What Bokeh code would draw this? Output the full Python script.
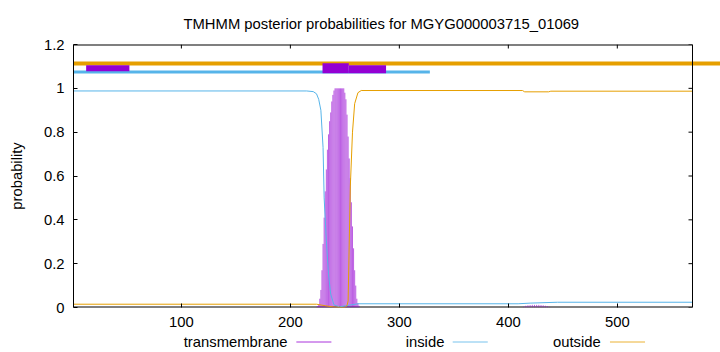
import numpy as np
from bokeh.plotting import figure
from bokeh.layouts import column
from bokeh.models import Range1d, FixedTicker, Span
from bokeh.core.properties import value
from bokeh.embed import file_html
from bokeh.resources import INLINE

TITLE = "TMHMM posterior probabilities for MGYG000003715_01069"
X_START, X_END = 1, 569
Y_START, Y_END = 0, 1.2
X_TICKS = [100, 200, 300, 400, 500]
Y_TICKS = [0, 0.2, 0.4, 0.6, 0.8, 1.0, 1.2]
Y_TICK_LABELS = ["0", "0.2", "0.4", "0.6", "0.8", "1", "1.2"]
SERIES = ["transmembrane", "inside", "outside"]
COLORS = {"transmembrane": "#9400D3", "inside": "#56B4E9", "outside": "#E69F00"}

# posterior probability curves
inside_x = [1, 215, 221, 224, 226, 228, 230, 231, 233, 235, 237, 240, 245, 262, 409, 420, 445, 569]
inside_y = [0.988, 0.988, 0.985, 0.975, 0.95, 0.90, 0.73, 0.50, 0.305, 0.153, 0.061, 0.012, 0.003,
            0.017, 0.017, 0.020, 0.024, 0.024]

outside_x = [1, 224, 232, 240, 250, 252, 253, 255, 257, 259, 262, 265, 413, 415, 437, 439, 569]
outside_y = [0.015, 0.015, 0.008, 0.002, 0.0, 0.01, 0.03, 0.55, 0.80, 0.93, 0.98, 0.99, 0.99,
             0.984, 0.984, 0.987, 0.987]

tm_x = [224, 225, 226, 227, 228, 229, 230, 231, 232, 233, 234, 235, 236, 237, 238, 239, 240,
        241, 242, 243, 244, 245, 246, 247, 248, 249, 250, 251, 252, 253, 254, 255, 256, 257,
        258, 259, 260, 261, 262, 263,
        414, 416, 418, 420, 422, 424, 426, 428, 430, 432, 434, 436, 438]
tm_y = [0.003, 0.006, 0.015, 0.04, 0.08, 0.17, 0.29, 0.41, 0.53, 0.63, 0.72, 0.79, 0.85, 0.89,
        0.94, 0.97, 0.99, 1.0, 1.0, 1.0, 1.0, 1.0, 1.0, 1.0, 1.0, 1.0, 0.98, 0.95, 0.88, 0.78,
        0.68, 0.59, 0.48, 0.37, 0.27, 0.17, 0.10, 0.04, 0.02, 0.008,
        0.004, 0.008, 0.01, 0.011, 0.012, 0.012, 0.012, 0.012, 0.011, 0.01, 0.008, 0.006, 0.003]

# predicted topology bars on top
outside_bar = (1, 620, 1.113)
inside_bar = (1, 328, 1.074)
tm_bar_x0 = [12.6, 229.5, 253.6]
tm_bar_x1 = [52.3, 253.6, 287.8]
tm_bar_y = [1.092, 1.092, 1.087]
tm_bar_w = [6, 10, 8]

FONT = "Liberation Sans"
FS = "14.8px"

# layout (pixels)
FRAME_LEFT, FRAME_RIGHT, FRAME_TOP, FRAME_BOTTOM = 73, 692, 44, 307
MAIN_H, LEG_H, W = 334, 18, 720
px_per_unit = (FRAME_RIGHT - FRAME_LEFT) / (X_END - X_START)
x_view_end = X_END + (W - FRAME_RIGHT) / px_per_unit   # lines overflow the frame like gnuplot

p = figure(width=W, height=MAIN_H, x_range=Range1d(X_START, x_view_end),
           y_range=Range1d(Y_START, Y_END), output_backend="svg", toolbar_location=None,
           min_border_left=FRAME_LEFT, min_border_right=0, min_border_top=FRAME_TOP,
           min_border_bottom=MAIN_H - FRAME_BOTTOM)
p.background_fill_color = "white"
p.border_fill_color = "white"
p.outline_line_color = None
p.grid.visible = False

p.title.text = TITLE
p.title.align = "left"
p.title.offset = 110
p.title.text_font = FONT
p.title.text_font_size = FS
p.title.text_font_style = "normal"
p.title.text_color = "black"
p.title.standoff = 25

for ax in p.xaxis:
    ax.ticker = FixedTicker(ticks=X_TICKS)
    ax.axis_line_color = None
    ax.major_label_standoff = 9
for ax in p.yaxis:
    ax.ticker = FixedTicker(ticks=Y_TICKS)
    ax.axis_line_color = "black"
    ax.major_label_standoff = 9
    ax.major_label_overrides = {t: l for t, l in zip(Y_TICKS, Y_TICK_LABELS)}
    ax.axis_label = "probability"
    ax.axis_label_text_font = FONT
    ax.axis_label_text_font_size = FS
    ax.axis_label_text_font_style = "normal"
    ax.axis_label_text_color = "black"
    ax.axis_label_standoff = 16
for ax in p.axis:
    ax.major_tick_in = 4
    ax.major_tick_out = 0
    ax.minor_tick_line_color = None
    ax.major_tick_line_color = "black"
    ax.major_label_text_font = FONT
    ax.major_label_text_font_size = FS
    ax.major_label_text_color = "black"

# border box limited to the data range (top, bottom, right) + mirrored ticks
p.segment(x0=[X_START, X_START], y0=[Y_END, Y_START], x1=[X_END, X_END], y1=[Y_END, Y_START],
          line_color="black", line_width=2)
p.add_layout(Span(location=X_END, dimension="height", line_color="black", line_width=1))
p.ray(x=[X_END] * len(Y_TICKS), y=Y_TICKS, length=4, angle=np.pi, length_units="screen",
      line_color="black", line_width=1)
p.ray(x=X_TICKS, y=[Y_END] * len(X_TICKS), length=4, angle=-np.pi / 2, length_units="screen",
      line_color="black", line_width=1)

# impulses for transmembrane
p.segment(x0=tm_x, y0=[0] * len(tm_x), x1=tm_x, y1=tm_y, line_width=0.9,
          line_color=COLORS["transmembrane"], line_alpha=0.7)
p.line(inside_x, inside_y, line_width=1, line_color=COLORS["inside"])
p.line(outside_x, outside_y, line_width=1, line_color=COLORS["outside"])

# topology bars
p.segment(x0=[outside_bar[0]], y0=[outside_bar[2]], x1=[outside_bar[1]], y1=[outside_bar[2]],
          line_width=4, line_color=COLORS["outside"])
p.segment(x0=[inside_bar[0]], y0=[inside_bar[2]], x1=[inside_bar[1]], y1=[inside_bar[2]],
          line_width=3, line_color=COLORS["inside"])
p.segment(x0=tm_bar_x0, y0=tm_bar_y, x1=tm_bar_x1, y1=tm_bar_y, line_width=tm_bar_w,
          line_color=COLORS["transmembrane"])

# legend strip (gnuplot style: text, then line sample), pixel coordinates
leg = figure(width=W, height=LEG_H, x_range=Range1d(0, W), y_range=Range1d(0, LEG_H),
             output_backend="svg", toolbar_location=None, min_border=0,
             x_axis_type=None, y_axis_type=None)
leg.outline_line_color = None
leg.grid.visible = False
leg.background_fill_color = "white"
leg.border_fill_color = "white"
legend_text_right = [238, 412.7, 586.7]
legend_line_x0 = [248, 422, 597]
legend_line_len = 39
for name, tx, lx in zip(SERIES, legend_text_right, legend_line_x0):
    leg.text(x=[tx], y=[LEG_H - 7.7], text=[name], text_align="right",
             text_baseline="middle", text_font=value(FONT), text_font_size=value(FS),
             text_color="black")
    leg.segment(x0=[lx], x1=[lx + legend_line_len], y0=[LEG_H - 7.5], y1=[LEG_H - 7.5],
                line_color=COLORS[name], line_width=0.8)

layout = column(p, leg, spacing=0)
open("out.html", "w").write(file_html(layout, INLINE))
